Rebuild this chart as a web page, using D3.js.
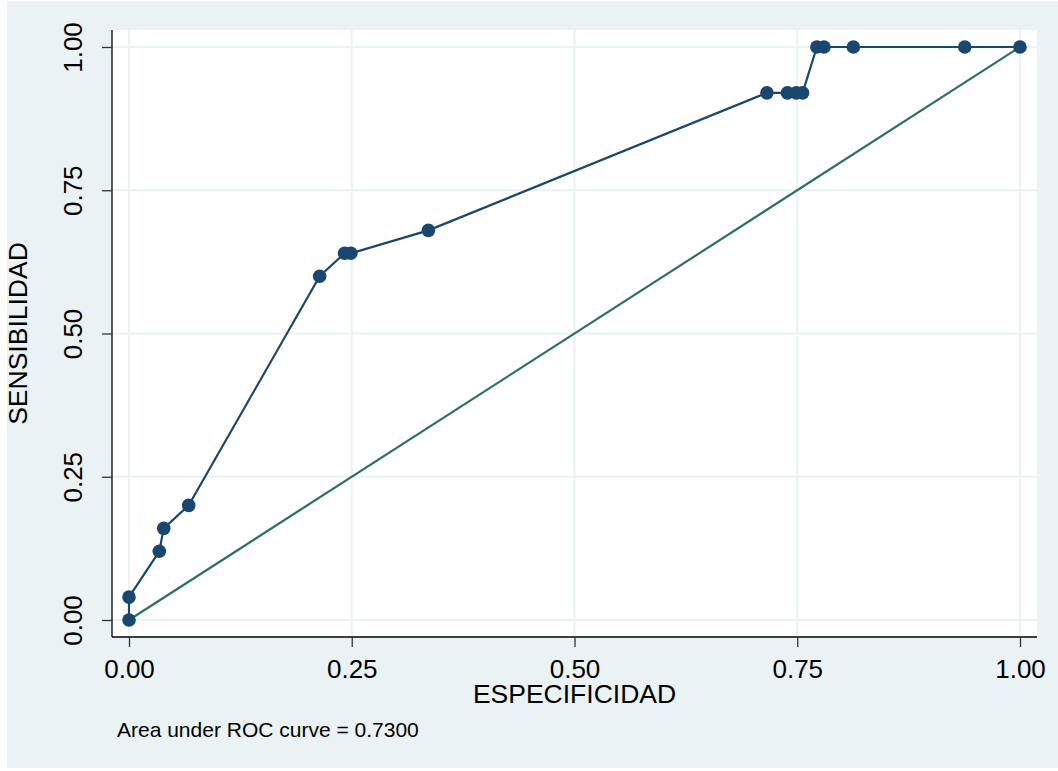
<!DOCTYPE html>
<html>
<head>
<meta charset="utf-8">
<script src="https://cdn.jsdelivr.net/npm/d3@7"></script>
<style>
  body { margin: 0; background: #ffffff; }
  text { font-family: Arial, "Liberation Sans", Helvetica, sans-serif; }
</style>
</head>
<body>
<script>
/* ROC curve data (1 - specificity on x, sensitivity on y) */
var especificidad = [0, 0, 0.034, 0.039, 0.067, 0.214, 0.242, 0.249, 0.336,
	0.716, 0.739, 0.749, 0.756, 0.772, 0.780, 0.813, 0.938, 1];
var sensibilidad = [0, 0.04, 0.12, 0.16, 0.20, 0.60, 0.64, 0.64, 0.68,
	0.92, 0.92, 0.92, 0.92, 1, 1, 1, 1, 1];
var tickValues = [0, 0.25, 0.5, 0.75, 1];
var aucText = "Area under ROC curve = 0.7300";

/* Display setup */
var width = 1058, height = 771,
	plot = {left: 112, top: 30, right: 1037, bottom: 637},
	navy = "#1a476f",
	teal = "#2e7061",
	bgColor = "#eaf2f3";

var svg = d3.select("body").append("svg")
	.attr("width", width)
	.attr("height", height);

svg.append("rect")
	.attr("x", 7).attr("y", 1)
	.attr("width", width - 7).attr("height", height - 4)
	.style("fill", bgColor);

svg.append("rect")
	.attr("x", plot.left).attr("y", plot.top)
	.attr("width", plot.right - plot.left)
	.attr("height", plot.bottom - plot.top)
	.style("fill", "white");

var x = d3.scaleLinear().domain([0, 1]).range([129, 1020]),
	y = d3.scaleLinear().domain([0, 1]).range([620, 47]);

// gridlines
svg.append("g").selectAll("line.vgrid")
	.data(tickValues).enter().append("line")
		.attr("x1", function(d) { return x(d); })
		.attr("x2", function(d) { return x(d); })
		.attr("y1", plot.top).attr("y2", plot.bottom)
		.style("stroke", bgColor).style("stroke-width", 2);

svg.append("g").selectAll("line.hgrid")
	.data(tickValues).enter().append("line")
		.attr("y1", function(d) { return y(d); })
		.attr("y2", function(d) { return y(d); })
		.attr("x1", plot.left).attr("x2", plot.right)
		.style("stroke", bgColor).style("stroke-width", 2);

// axes
var xAxis = d3.axisBottom(x).tickValues(tickValues)
	.tickFormat(d3.format(".2f")).tickSize(10).tickPadding(10);
var yAxis = d3.axisLeft(y).tickValues(tickValues)
	.tickFormat(d3.format(".2f")).tickSize(10).tickPadding(0);

var gx = svg.append("g")
	.attr("transform", "translate(0," + plot.bottom + ")")
	.call(xAxis);
gx.select(".domain").attr("d", "M" + plot.left + ",0H" + plot.right)
	.style("stroke", "#000").style("stroke-width", 1.3);
gx.selectAll(".tick line").style("stroke", "#333").style("stroke-width", 1.3);
gx.selectAll(".tick text")
	.attr("y", 41).attr("dy", null)
	.style("font-size", "26px").style("fill", "#000");

var gy = svg.append("g")
	.attr("transform", "translate(" + plot.left + ",0)")
	.call(yAxis);
gy.select(".domain").attr("d", "M0," + plot.top + "V" + plot.bottom)
	.style("stroke", "#000").style("stroke-width", 1.3);
gy.selectAll(".tick line").style("stroke", "#333").style("stroke-width", 1.3);
gy.selectAll(".tick text")
	.attr("x", null).attr("dy", null)
	.attr("transform", "translate(-30,0) rotate(-90)")
	.style("text-anchor", "middle")
	.style("font-size", "26px").style("fill", "#000");

// reference line
svg.append("line")
	.attr("x1", x(0)).attr("y1", y(0))
	.attr("x2", x(1)).attr("y2", y(1))
	.style("stroke", teal).style("stroke-width", 2.2);

// ROC curve
var points = especificidad.map(function(d, i) { return [d, sensibilidad[i]]; });
var line = d3.line()
	.x(function(d) { return x(d[0]); })
	.y(function(d) { return y(d[1]); });

svg.append("path")
	.datum(points)
	.attr("d", line)
	.style("fill", "none")
	.style("stroke", navy)
	.style("stroke-width", 2.2);

svg.append("g").selectAll("circle")
	.data(points).enter().append("circle")
		.attr("cx", function(d) { return x(d[0]); })
		.attr("cy", function(d) { return y(d[1]); })
		.attr("r", 6.8)
		.style("fill", navy);

// titles
svg.append("text")
	.attr("x", (x(0) + x(1)) / 2).attr("y", 703)
	.style("text-anchor", "middle").style("font-size", "26.5px")
	.text("ESPECIFICIDAD");

svg.append("text")
	.attr("transform", "translate(27," + ((plot.top + plot.bottom) / 2) + ") rotate(-90)")
	.style("text-anchor", "middle").style("font-size", "26.5px")
	.text("SENSIBILIDAD");

svg.append("text")
	.attr("x", 117).attr("y", 737)
	.style("font-size", "21px")
	.text(aucText);
</script>
</body>
</html>
